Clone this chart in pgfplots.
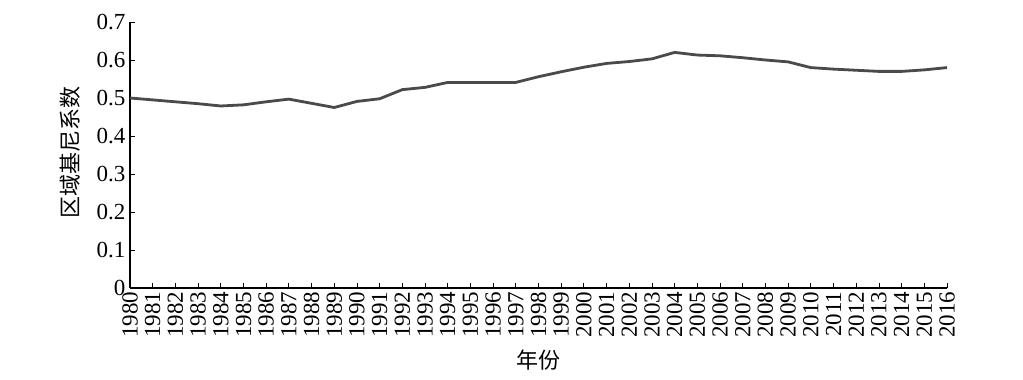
\documentclass[border=0pt]{standalone}
\usepackage{fontspec}
\setmainfont{Liberation Serif}
\newfontfamily\cjk{Noto Sans CJK SC}
\usepackage{pgfplots}
\pgfplotsset{compat=1.18}
\definecolor{linegray}{HTML}{4A4A4A}
\begin{document}
\begin{tikzpicture}
\path[use as bounding box] (0,0) rectangle (1023bp,380bp);
\begin{axis}[
  at={(130bp,92bp)}, anchor=south west,
  scale only axis, width=817bp, height=266bp,
  xmin=1980, xmax=2016, ymin=0, ymax=0.7,
  axis lines*=left,
  axis line style={line width=1.2bp, black},
  tick align=inside,
  major tick length=5bp,
  tick style={line width=0.8bp, black},
  xtick={1980,1981,...,2016},
  ytick={0,0.1,...,0.7},
  tick label style={font=\fontsize{23bp}{25bp}\selectfont},
  /pgf/number format/assume math mode=true,
  x tick label style={rotate=90, anchor=east, /pgf/number format/1000 sep={}},
  y tick label style={/pgf/number format/fixed, /pgf/number format/precision=1},
  yticklabel style={xshift=-1bp},
  xlabel={\cjk 年份},
  ylabel={\cjk 区域基尼系数},
  xlabel style={at={(axis description cs:0.5,-0.27)}, anchor=center, font=\fontsize{22bp}{24bp}\selectfont},
  ylabel style={at={(axis description cs:-0.073,0.51)}, anchor=center, font=\fontsize{22bp}{24bp}\selectfont},
  clip=false,
]
\addplot[color=linegray, line width=2.8bp, line join=round] coordinates {
(1980,0.500) (1981,0.495) (1982,0.490) (1983,0.485) (1984,0.479)
(1985,0.482) (1986,0.490) (1987,0.497) (1988,0.486) (1989,0.475)
(1990,0.491) (1991,0.498) (1992,0.522) (1993,0.528) (1994,0.541)
(1995,0.541) (1996,0.541) (1997,0.541) (1998,0.556) (1999,0.569)
(2000,0.581) (2001,0.591) (2002,0.596) (2003,0.603) (2004,0.620)
(2005,0.613) (2006,0.611) (2007,0.606) (2008,0.600) (2009,0.595)
(2010,0.580) (2011,0.576) (2012,0.573) (2013,0.570) (2014,0.570)
(2015,0.574) (2016,0.580)
};
\end{axis}
\end{tikzpicture}
\end{document}
